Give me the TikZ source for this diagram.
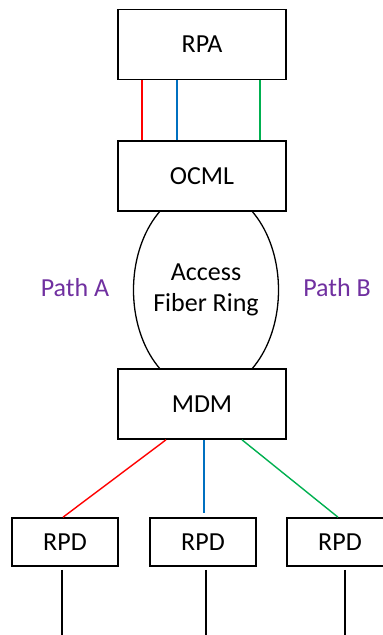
\documentclass[tikz,border=0pt]{standalone}
\usepackage{fontspec}
\setmainfont{Carlito}

\definecolor{linkred}{RGB}{255,0,0}
\definecolor{linkblue}{RGB}{0,112,192}
\definecolor{linkgreen}{RGB}{0,176,80}
\definecolor{pathpurple}{RGB}{112,48,160}

\begin{document}
\begin{tikzpicture}[x=1pt, y=-1pt,
  txt/.style={font=\fontsize{26}{31}\selectfont},
  box/.style={draw, txt, line width=1.6pt, minimum width=168pt, minimum height=70pt},
  rpdbox/.style={draw, txt, line width=1.6pt, minimum width=106pt, minimum height=48pt},
  link/.style={line width=1.4pt}]

\useasboundingbox (0,0) rectangle (383,635);

% Head-end boxes
\node[box] (rpa)  at (202,44.5) {RPA};
\node[box] (ocml) at (202,176)  {OCML};
\node[box] (mdm)  at (202,404)  {MDM};

% Remote devices
\node[rpdbox] (rpd1) at (65,542)  {RPD};
\node[rpdbox] (rpd2) at (203,542) {RPD};
\node[rpdbox] (rpd3) at (340,542) {RPD};

% Links RPA -- OCML
\draw[link, linkred]   ([xshift=-60pt]rpa.south) -- ([xshift=-60pt]ocml.north);
\draw[link, linkblue]  ([xshift=-25pt]rpa.south) -- ([xshift=-25pt]ocml.north);
\draw[link, linkgreen] ([xshift=58pt]rpa.south)  -- ([xshift=58pt]ocml.north);

% Access fiber ring, cut off by the two boxes
\node[txt, align=center] (ring) at (206,290) {Access\\Fiber Ring};
\begin{scope}
\clip (0,211) rectangle (383,369);
\draw[line width=1.3pt] (ring.center) ellipse [x radius=72.5, y radius=102];
\end{scope}

% Path labels
\node[txt, text=pathpurple] (patha) at (75,288)  {Path A};
\node[txt, text=pathpurple] (pathb) at (337,288) {Path B};

% Links MDM -- RPD
\draw[link, linkred]   ([xshift=-36pt]mdm.south) -- ([xshift=-2pt]rpd1.north);
\draw[link, linkblue]  ([xshift=2pt]mdm.south)   -- ([xshift=1pt, yshift=4pt]rpd2.north);
\draw[link, linkgreen] ([xshift=40pt]mdm.south)  -- ([xshift=-2pt]rpd3.north);

% Drops below each RPD
\foreach \i/\dx in {1/-3, 2/3, 3/5} {
  \coordinate (tail\i) at ([xshift=\dx pt, yshift=-75pt]rpd\i.south);
  \draw[line width=1.6pt] ([xshift=\dx pt, yshift=-3pt]rpd\i.south) -- (tail\i);
}

\end{tikzpicture}
\end{document}
